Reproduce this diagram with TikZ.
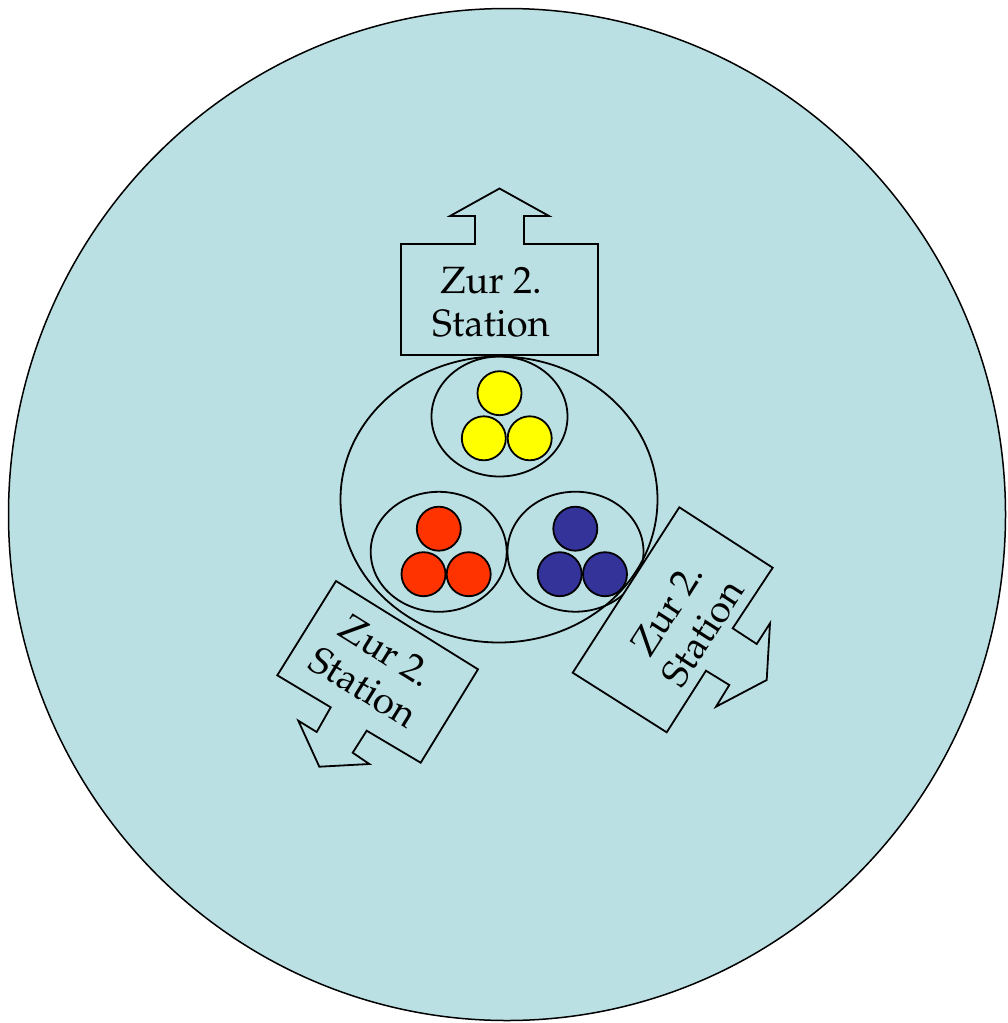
\documentclass[tikz,border=0pt]{standalone}
\usepackage[T1]{fontenc}
\usepackage{mathpazo}
\usetikzlibrary{shapes.geometric}
\definecolor{bg}{HTML}{BBE0E3}
\definecolor{ye}{HTML}{FFFF00}
\definecolor{re}{HTML}{FF3300}
\definecolor{bl}{HTML}{333399}
\begin{document}
\begin{tikzpicture}[x=1pt,y=-1pt,line width=1.8pt,line join=miter,
  ball/.style={circle,draw=black,line width=1.8pt,minimum size=44pt,inner sep=0pt},
  grp/.style={ellipse,draw=black,line width=1.8pt,minimum width=136pt,minimum height=120pt,inner sep=0pt},
  callout/.style={draw=black,fill=bg,line width=1.8pt},
  lbl/.style={align=center,inner sep=0pt,font=\fontsize{38}{43}\selectfont}]
\useasboundingbox (0,0) rectangle (1008,1023);
% big disc
\draw[fill=bg,line width=1.5pt] (507,514.5) ellipse [x radius=498.5, y radius=506];
% middle ellipse
\node[ellipse,draw=black,line width=1.8pt,minimum width=317pt,minimum height=286pt,inner sep=0pt] (mid) at (499,499.5) {};
% groups
\node[grp] (gy) at (499.5,416.5) {};
\node[grp] (gr) at (438.7,551.8) {};
\node[grp] (gb) at (575.5,551.7) {};
% yellow
\node[ball,fill=ye] (y1) at (499.5,393.2) {};
\node[ball,fill=ye] (y2) at (483.8,438.3) {};
\node[ball,fill=ye] (y3) at (529.7,438.3) {};
% red
\node[ball,fill=re] (r1) at (438.8,528.7) {};
\node[ball,fill=re] (r2) at (423.5,574.2) {};
\node[ball,fill=re] (r3) at (468.7,574.2) {};
% blue
\node[ball,fill=bl] (b1) at (575.3,528.7) {};
\node[ball,fill=bl] (b2) at (559.7,574.2) {};
\node[ball,fill=bl] (b3) at (605,574.2) {};
% top callout
\draw[callout] (401,244) -- (475,244) -- (475,216) -- (450,216) -- (499.5,188.5)
  -- (549,216) -- (524,216) -- (524,244) -- (598,244) -- (598,355) -- (401,355) -- cycle;
\node[lbl] (t1) at (491,302) {Zur 2.\\Station};
% bottom-left callout
\draw[callout] (336,581) -- (478,669.3) -- (420.7,762.7) -- (366.7,730.7) -- (352.7,752.7)
  -- (369.3,764) -- (319.3,766.7) -- (298.3,720.7) -- (316.7,732) -- (330.7,707.3)
  -- (277.3,675.3) -- cycle;
\node[lbl,rotate=-31.9] (t2) at (375,669) {Zur 2.\\Station};
% right callout
\draw[callout] (679.3,507.3) -- (772.7,567.7) -- (732.7,628.3) -- (756.7,644) -- (770,623.3)
  -- (766.7,680) -- (716,706.7) -- (729.3,685) -- (706,670.7) -- (666.7,732.3)
  -- (572.7,672.7) -- cycle;
\node[lbl,rotate=57.2] (t3) at (685,621) {Zur 2.\\Station};
\end{tikzpicture}
\end{document}
